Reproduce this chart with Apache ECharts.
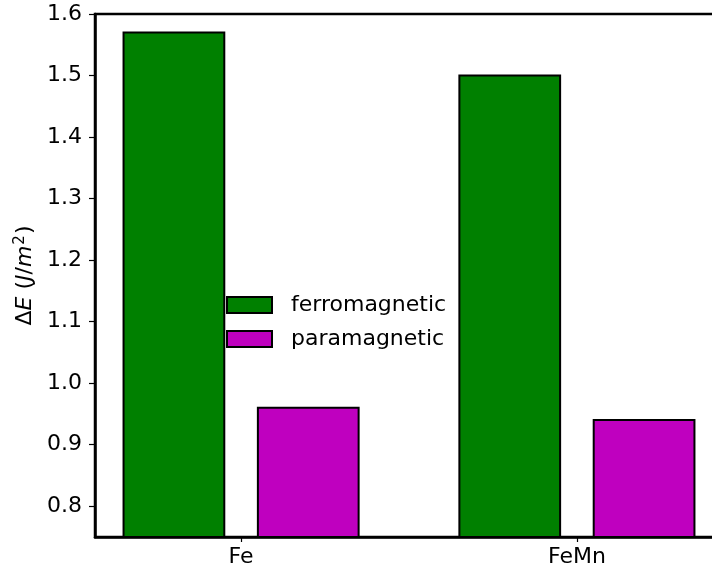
<!DOCTYPE html>
<html>
<head>
<meta charset="utf-8">
<script src="https://cdn.jsdelivr.net/npm/echarts@6/dist/echarts.min.js"></script>
<style>
  html, body { margin: 0; padding: 0; background: #fff; }
  #chart { width: 712px; height: 571px; }
</style>
</head>
<body>
<div id="chart"></div>
<script>
// Alloys on the x axis and their energy differences (J/m^2)
const categories = ['Fe', 'FeMn'];
const ferromagnetic = [1.57, 1.50];
const paramagnetic = [0.96, 0.94];
const yTicks = [0.8, 0.9, 1.0, 1.1, 1.2, 1.3, 1.4, 1.5, 1.6];

// Bar layout in x data units: groups sit at integer positions
const BAR_OFFSET = 0.2;
const BAR_WIDTH = 0.3;
const FONT = 'DejaVu Sans';

function barRenderer(offset) {
  return function (params, api) {
    const x = api.value(0) + offset;
    const y = api.value(1);
    const p0 = api.coord([x - BAR_WIDTH / 2, y]);
    const p1 = api.coord([x + BAR_WIDTH / 2, 0]);
    const rect = echarts.graphic.clipRectByRect(
      { x: p0[0], y: p0[1], width: p1[0] - p0[0], height: p1[1] - p0[1] },
      { x: params.coordSys.x, y: params.coordSys.y,
        width: params.coordSys.width, height: params.coordSys.height }
    );
    if (!rect) return null;
    return {
      type: 'rect',
      shape: rect,
      style: api.style({ stroke: '#000', lineWidth: 2 })
    };
  };
}

const ferroData = categories.map((c, i) => [i, ferromagnetic[i]]);
const paraData = categories.map((c, i) => [i, paramagnetic[i]]);

const chart = echarts.init(document.getElementById('chart'), null, { renderer: 'canvas' });
chart.setOption({
  animation: false,
  backgroundColor: '#fff',
  textStyle: { fontFamily: FONT },
  grid: {
    left: 95, top: 14, right: -11, bottom: 34,
    outerBoundsMode: 'none',
    containLabel: false,
    show: true, borderColor: '#000', borderWidth: 2.5, backgroundColor: 'transparent'
  },
  legend: {
    orient: 'vertical',
    left: 226, top: 294,
    padding: 0,
    itemWidth: 45, itemHeight: 16, itemGap: 12,
    icon: 'rect',
    itemStyle: { borderColor: '#000', borderWidth: 2 },
    textStyle: { fontFamily: FONT, fontSize: 22, color: '#000', lineHeight: 22, padding: [0, 0, 0, 14] },
    data: ['ferromagnetic', 'paramagnetic']
  },
  xAxis: {
    type: 'value',
    min: -0.435, max: 1.435,
    splitLine: { show: false },
    axisLine: { show: true, onZero: false, lineStyle: { color: '#000', width: 2.5 } },
    axisTick: { show: true, length: 5, customValues: [0, 1], lineStyle: { color: '#000', width: 1.2 } },
    axisLabel: {
      customValues: [0, 1],
      formatter: v => categories[Math.round(v)],
      fontFamily: FONT, fontSize: 22, color: '#000', margin: 9
    }
  },
  yAxis: {
    type: 'value',
    min: 0.75, max: 1.6,
    name: '{r|Δ}{i|E} {r|(}{i|J}{r|/}{i|m}{s|2}{r|)}',
    nameLocation: 'middle',
    nameGap: 55,
    nameRotate: 90,
    nameTextStyle: {
      fontFamily: FONT, fontSize: 22, color: '#000',
      rich: {
        r: { fontFamily: FONT, fontSize: 22, color: '#000' },
        i: { fontFamily: FONT, fontSize: 22, fontStyle: 'italic', color: '#000' },
        s: { fontFamily: FONT, fontSize: 15, color: '#000', padding: [0, 1, 10, 1] }
      }
    },
    splitLine: { show: false },
    axisLine: { show: true, onZero: false, lineStyle: { color: '#000', width: 2.5 } },
    axisTick: { show: true, length: 6, customValues: yTicks, lineStyle: { color: '#000', width: 1.2 } },
    axisLabel: {
      customValues: yTicks,
      formatter: v => v.toFixed(1),
      fontFamily: FONT, fontSize: 22, color: '#000', margin: 13
    }
  },
  series: [
    {
      name: 'ferromagnetic',
      type: 'custom',
      itemStyle: { color: '#008000', borderColor: '#000', borderWidth: 2 },
      renderItem: barRenderer(-BAR_OFFSET),
      encode: { x: 0, y: 1 },
      data: ferroData
    },
    {
      name: 'paramagnetic',
      type: 'custom',
      itemStyle: { color: '#bf00bf', borderColor: '#000', borderWidth: 2 },
      renderItem: barRenderer(BAR_OFFSET),
      encode: { x: 0, y: 1 },
      data: paraData
    }
  ]
});
</script>
</body>
</html>
